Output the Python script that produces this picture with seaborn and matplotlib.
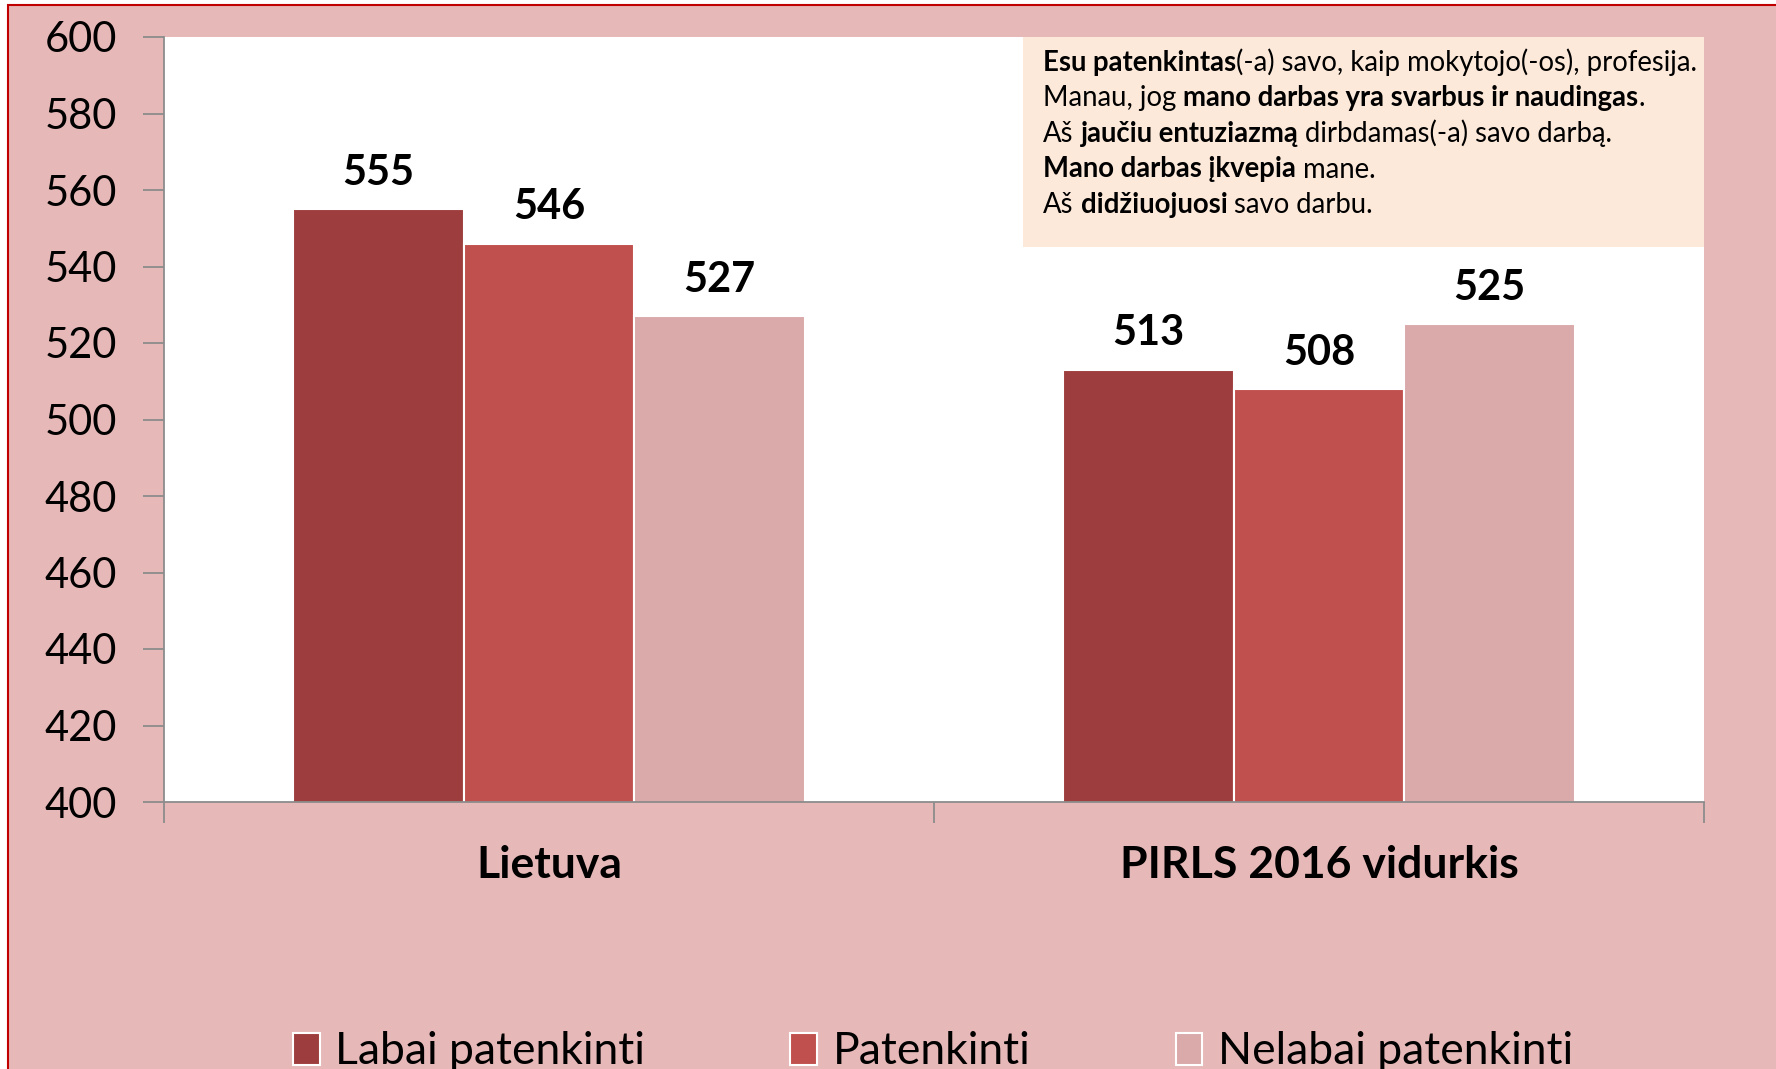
import numpy as np
import pandas as pd
import matplotlib
matplotlib.use("Agg")
import matplotlib.pyplot as plt
from matplotlib.patches import Rectangle
import seaborn as sns

# data
grupes = ["Lietuva", "PIRLS 2016 vidurkis"]
serijos = ["Labai patenkinti", "Patenkinti", "Nelabai patenkinti"]
labai = [555, 513]
patenkinti = [546, 508]
nelabai = [527, 525]
spalvos = ["#9E3D3D", "#C0504D", "#DAA9A9"]
yticks = list(range(400, 601, 20))

# text in the peach box: (segment, bold?)
eilutes = [
    [("Esu patenkintas", True), ("(-a) savo, kaip mokytojo(-os), profesija.", False)],
    [("Manau, jog ", False), ("mano darbas yra svarbus ir naudingas", True), (".", False)],
    [("Aš ", False), ("jaučiu entuziazmą", True), (" dirbdamas(-a) savo darbą.", False)],
    [("Mano darbas įkvepia", True), (" mane.", False)],
    [("Aš ", False), ("didžiuojuosi", True), (" savo darbu.", False)],
]

df = pd.DataFrame({
    "grupe": grupes * 3,
    "serija": [s for s in serijos for _ in grupes],
    "rezultatas": labai + patenkinti + nelabai,
})

sns.set_style("ticks")
plt.rcParams["font.family"] = ["Lato", "DejaVu Sans"]
plt.rcParams["text.color"] = "black"
plt.rcParams["xtick.labelcolor"] = "black"
plt.rcParams["ytick.labelcolor"] = "black"

W, H = 1776, 1069
fig = plt.figure(figsize=(W / 100, H / 100), dpi=100, facecolor="white")
# pink chart area with red border
fig.patches.append(Rectangle((8 / W, -0.05), 1.2, 1 - 5 / H + 0.05, transform=fig.transFigure,
                             facecolor="#E6B8B7", edgecolor="#C00000", linewidth=1.5, zorder=-5))

ax = fig.add_axes([164 / W, 1 - 802 / H, 1540 / W, 765 / H])
ax.set_facecolor("white")

sns.barplot(data=df, x="grupe", y="rezultatas", hue="serija", palette=spalvos, saturation=1,
            width=0.665, edgecolor="white", linewidth=1.5, ax=ax, legend=True)

for cont in ax.containers:
    ax.bar_label(cont, fmt="%d", padding=12.5, fontsize=30, fontweight="bold", color="black")

ax.set_ylim(400, 600)
ax.set_xlim(-0.5, 1.5)
ax.set_yticks(yticks)
ax.set_xlabel("")
ax.set_ylabel("")
sns.despine(ax=ax, top=True, right=True)
for s in ["left", "bottom"]:
    ax.spines[s].set_color("#8C8C8C")
    ax.spines[s].set_linewidth(1.3)
ax.tick_params(axis="y", labelsize=30, length=15, width=1.3, color="#8C8C8C", pad=19)
ax.tick_params(axis="x", which="major", length=0, labelsize=32, pad=31)
ax.set_xticks([-0.5, 0.5, 1.5], minor=True)
ax.tick_params(axis="x", which="minor", length=15, width=1.3, color="#8C8C8C")
for t in ax.get_xticklabels():
    t.set_fontweight("bold")

# legend at the bottom
handles, labels = ax.get_legend_handles_labels()
ax.get_legend().remove()
fig.legend(handles, labels, loc="center", bbox_to_anchor=(933 / W, 1 - 1052 / H), ncol=3,
           frameon=False, fontsize=32, handlelength=0.6, handleheight=0.75,
           handletextpad=0.35, columnspacing=3.27)

# peach text box
ax.add_patch(Rectangle((0.558, 0.7255), 0.442, 0.2745, transform=ax.transAxes,
                       facecolor="#FDE9D9", edgecolor="none", zorder=5))

fig.canvas.draw()
r = fig.canvas.get_renderer()
fs = 19.8


def plotis(txt, bold):
    t = fig.text(0, 0, txt, fontsize=fs, fontweight="bold" if bold else "normal")
    w = t.get_window_extent(r).width
    t.remove()
    return w


baselines = [71, 106, 141.5, 177.5, 213]
for eil, yb in zip(eilutes, baselines):
    x = 1043
    for seg, bold in eil:
        sp = plotis("a a", bold) - plotis("aa", bold)
        lead = len(seg) - len(seg.lstrip(" "))
        trail = len(seg) - len(seg.rstrip(" "))
        core = seg.strip(" ")
        x += lead * sp
        fig.text(x / W, 1 - yb / H, core, fontsize=fs, va="baseline", ha="left",
                 fontweight="bold" if bold else "normal", zorder=6)
        x += plotis(core, bold) + trail * sp

fig.savefig("out.png", dpi=100)
